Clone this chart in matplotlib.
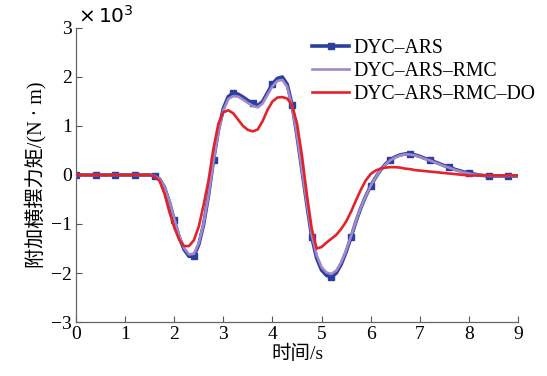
import numpy as np
import matplotlib
matplotlib.use("Agg")
import matplotlib.pyplot as plt

plt.rcParams['font.family'] = ['Liberation Serif', 'Noto Sans CJK SC']
plt.rcParams['axes.unicode_minus'] = True

# time axis, 0.1 s step
t = np.round(np.arange(0, 9.01, 0.1), 1)

# additional yaw moment, in 10^3 N*m
ars = [0.0] * 16 + [
    -0.02, -0.08, -0.25, -0.55, -0.92, -1.27, -1.52, -1.66, -1.65, -1.42,
    -1.00, -0.40, 0.31, 0.92, 1.36, 1.60, 1.67, 1.65, 1.59, 1.52,
    1.46, 1.42, 1.50, 1.68, 1.86, 1.97, 2.00, 1.85, 1.43, 0.80,
    0.10, -0.60, -1.27, -1.70, -1.94, -2.05, -2.08, -2.00, -1.82, -1.57,
    -1.27, -0.95, -0.67, -0.43, -0.22, -0.05, 0.10, 0.22, 0.31, 0.37,
    0.41, 0.43, 0.43, 0.41, 0.38, 0.34, 0.31, 0.27, 0.23, 0.19,
    0.16, 0.12, 0.09, 0.06, 0.04, 0.02, 0.00, -0.01] + [-0.02] * 7

ars_rmc = [0.0] * 16 + [
    -0.02, -0.08, -0.24, -0.53, -0.89, -1.24, -1.49, -1.62, -1.61, -1.39,
    -0.98, -0.40, 0.28, 0.88, 1.32, 1.55, 1.61, 1.60, 1.54, 1.47,
    1.41, 1.38, 1.46, 1.64, 1.81, 1.92, 1.94, 1.80, 1.40, 0.80,
    0.10, -0.58, -1.22, -1.64, -1.88, -1.99, -2.02, -1.95, -1.78, -1.54,
    -1.25, -0.94, -0.66, -0.43, -0.22, -0.05, 0.10, 0.21, 0.30, 0.36,
    0.40, 0.42, 0.42, 0.40, 0.37, 0.33, 0.30, 0.26, 0.22, 0.18,
    0.15, 0.11, 0.08, 0.05, 0.03, 0.01, 0.00, -0.01] + [-0.02] * 7

ars_rmc_do = [0.0] * 16 + [
    -0.03, -0.12, -0.38, -0.75, -1.07, -1.32, -1.45, -1.45, -1.33, -1.05,
    -0.60, -0.10, 0.55, 1.05, 1.28, 1.32, 1.26, 1.13, 1.00, 0.92,
    0.89, 0.93, 1.10, 1.33, 1.50, 1.58, 1.59, 1.56, 1.42, 1.05,
    0.40, -0.40, -1.10, -1.50, -1.47, -1.38, -1.30, -1.22, -1.10, -0.95,
    -0.75, -0.52, -0.30, -0.11, 0.02, 0.09, 0.13, 0.15, 0.16, 0.16,
    0.15, 0.13, 0.12, 0.10, 0.09, 0.08, 0.07, 0.06, 0.05, 0.04,
    0.03, 0.02, 0.01, 0.00] + [-0.01] * 11

labels = ["DYC–ARS", "DYC–ARS–RMC", "DYC–ARS–RMC–DO"]

fig = plt.figure(figsize=(5.47, 3.76), dpi=100)
ax = fig.add_axes([0.139, 0.1436, 0.808, 0.782])

ax.plot(t, ars, color="#2b3f9c", lw=2.6, marker="s", markersize=4.5,
        markevery=4, label=labels[0], zorder=2)
ax.plot(t, ars_rmc, color="#a187cc", lw=1.9, label=labels[1], zorder=3)
ax.plot(t, ars_rmc_do, color="#e3232b", lw=1.9, label=labels[2], zorder=4)

ax.set_xlim(0, 9)
ax.set_ylim(-3, 3)
ax.set_xticks(range(0, 10))
ax.set_yticks(range(-3, 4))
ax.tick_params(direction="in", length=4, width=0.8, color="#555555",
               labelsize=14, pad=3)
for side in ("top", "right"):
    ax.spines[side].set_visible(False)
for side in ("left", "bottom"):
    ax.spines[side].set_color("#666666")
    ax.spines[side].set_linewidth(0.9)

ax.text(0.005, 1.005, r"$\times\,10^3$", transform=ax.transAxes,
        fontsize=14.5, ha="left", va="bottom", family="DejaVu Serif")

ax.set_xlabel("时间/s", fontsize=14, labelpad=1)
ax.set_ylabel("附加横摆力矩/(N · m)", fontsize=14.5, labelpad=3)

leg = fig.legend(loc="upper left", bbox_to_anchor=(0.571, 0.897), frameon=False,
                 fontsize=14.2, handlelength=1.85, handletextpad=0.25,
                 labelspacing=0.2, borderaxespad=0.0, borderpad=0.0)

fig.savefig("out.png", dpi=100)
